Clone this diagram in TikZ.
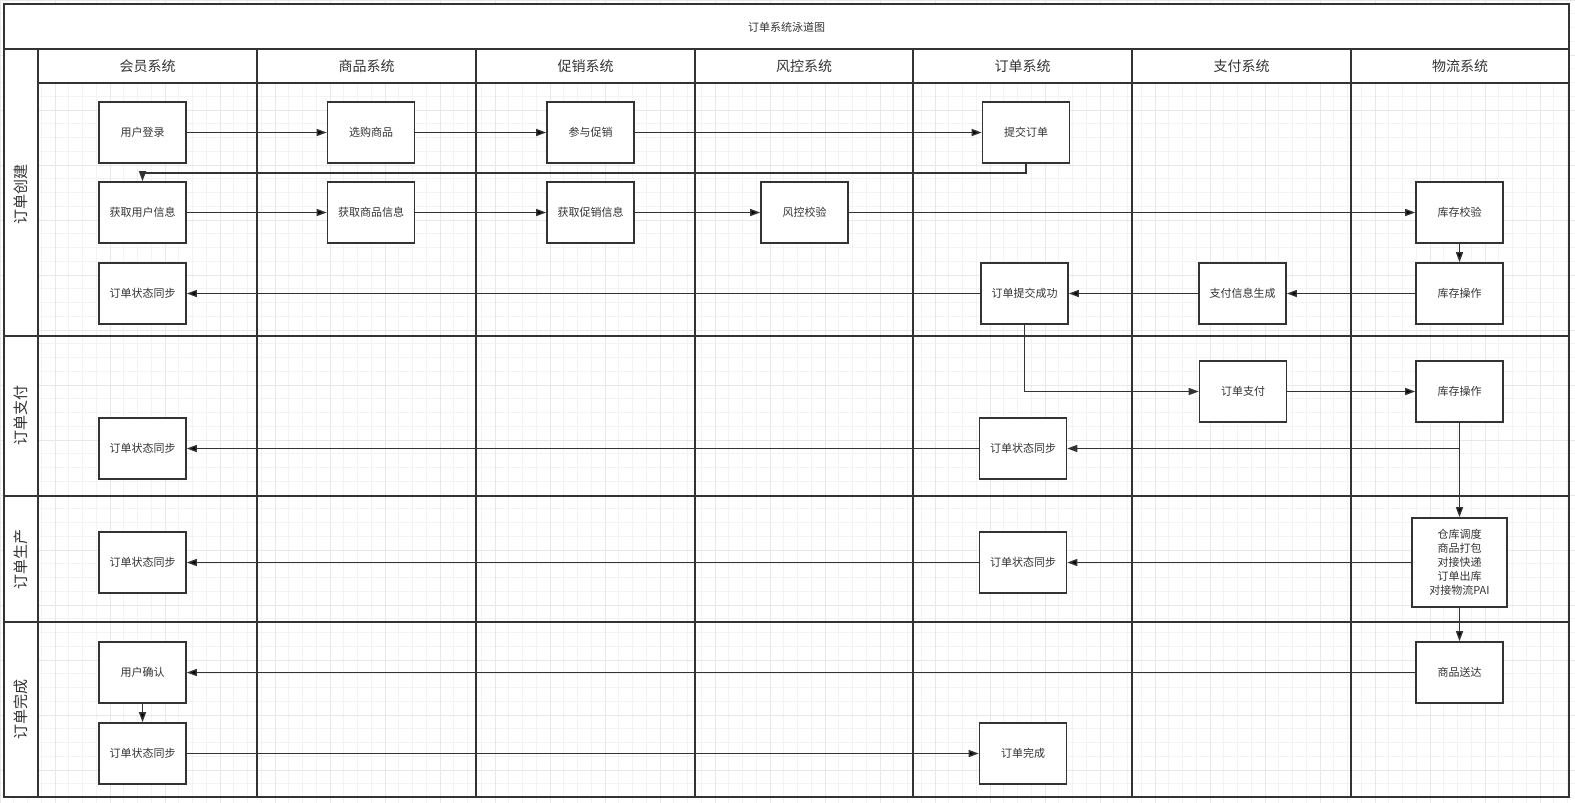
\documentclass[tikz,border=0pt]{standalone}
\usepackage{fontspec}
\setmainfont{Noto Sans CJK SC}
\usetikzlibrary{arrows.meta}
\definecolor{linegray}{HTML}{333333}
\definecolor{gridminor}{HTML}{F3F3F3}
\definecolor{gridmajor}{HTML}{E8E8E8}

\begin{document}
\begin{tikzpicture}[x=1pt, y=-1pt,
    task node/.style={rectangle, draw=linegray, line width=1.6pt, fill=white, minimum width=87pt, minimum height=61pt, inner sep=0pt, align=center, font=\fontsize{11pt}{14pt}\selectfont},
    lane line/.style={draw=linegray, line width=1.9pt},
    flow/.style={-{Triangle[length=10pt,width=7pt]}, draw=linegray, line width=1.4pt}]
  \tikzstyle{every node}=[text=linegray]

  \useasboundingbox (0,0) rectangle (1575,803);
  % background grid
  \draw[gridminor, step=13.75pt, line width=0.8pt] (0,0) grid (1575,803);
  \draw[gridmajor, step=55pt, line width=0.8pt] (0,0) grid (1575,803);
  \fill[white] (4,4) rectangle (1569,49);
  \fill[white] (38,49) rectangle (1569,83);
  \fill[white] (4,49) rectangle (38,797);

  % pool and lanes
  \draw[lane line] (4,4) rectangle (1569,797);
  \draw[lane line] (4,49) -- (1569,49);
  \draw[lane line] (38,83) -- (1569,83);
  \draw[lane line] (38,49) -- (38,797);
  \draw[lane line] (257,49) -- (257,797);
  \draw[lane line] (476,49) -- (476,797);
  \draw[lane line] (695,49) -- (695,797);
  \draw[lane line] (913,49) -- (913,797);
  \draw[lane line] (1132,49) -- (1132,797);
  \draw[lane line] (1351,49) -- (1351,797);
  \draw[lane line] (4,336) -- (1569,336);
  \draw[lane line] (4,496) -- (1569,496);
  \draw[lane line] (4,622) -- (1569,622);

  \node[font=\fontsize{11pt}{13pt}\selectfont] (title) at (786.5,27) {订单系统泳道图};

  \node[font=\fontsize{14pt}{16pt}\selectfont] (h1) at (147.5,66) {会员系统};
  \node[font=\fontsize{14pt}{16pt}\selectfont] (h2) at (366.5,66) {商品系统};
  \node[font=\fontsize{14pt}{16pt}\selectfont] (h3) at (585.5,66) {促销系统};
  \node[font=\fontsize{14pt}{16pt}\selectfont] (h4) at (804,66) {风控系统};
  \node[font=\fontsize{14pt}{16pt}\selectfont] (h5) at (1022.5,66) {订单系统};
  \node[font=\fontsize{14pt}{16pt}\selectfont] (h6) at (1241.5,66) {支付系统};
  \node[font=\fontsize{14pt}{16pt}\selectfont] (h7) at (1460,66) {物流系统};

  \node[font=\fontsize{15pt}{17pt}\selectfont, rotate=90] (l1) at (21,194) {订单创建};
  \node[font=\fontsize{15pt}{17pt}\selectfont, rotate=90] (l2) at (21,415) {订单支付};
  \node[font=\fontsize{15pt}{17pt}\selectfont, rotate=90] (l3) at (21,559) {订单生产};
  \node[font=\fontsize{15pt}{17pt}\selectfont, rotate=90] (l4) at (21,709) {订单完成};

  % order creation
  \node[task node] (1) at (142.5,132.5) {用户登录};
  \node[task node] (2) at (371,132.5) {选购商品};
  \node[task node] (3) at (590.5,132.5) {参与促销};
  \node[task node] (4) at (1026,132.5) {提交订单};
  \node[task node] (5) at (142.5,212.5) {获取用户信息};
  \node[task node] (6) at (371,212.5) {获取商品信息};
  \node[task node] (7) at (590.5,212.5) {获取促销信息};
  \node[task node] (8) at (804.5,212.5) {风控校验};
  \node[task node] (9) at (1459.5,212.5) {库存校验};
  \node[task node] (10) at (142.5,293.5) {订单状态同步};
  \node[task node] (11) at (1024.5,293.5) {订单提交成功};
  \node[task node] (12) at (1242.5,293.5) {支付信息生成};
  \node[task node] (13) at (1459.5,293.5) {库存操作};
  % order payment
  \node[task node] (14) at (1243,391.5) {订单支付};
  \node[task node] (15) at (1459.5,391.5) {库存操作};
  \node[task node] (16) at (142.5,448.5) {订单状态同步};
  \node[task node] (17) at (1023,448.5) {订单状态同步};
  % order production
  \node[task node] (18) at (142.5,562.5) {订单状态同步};
  \node[task node] (19) at (1023,562.5) {订单状态同步};
  \node[task node, minimum width=95pt, minimum height=89pt] (20) at (1459.5,562.5) {仓库调度\\商品打包\\对接快递\\订单出库\\对接物流PAI};
  % order completion
  \node[task node] (21) at (142.5,672.5) {用户确认};
  \node[task node] (22) at (142.5,753.5) {订单状态同步};
  \node[task node] (23) at (1023,753.5) {订单完成};
  \node[task node] (24) at (1459.5,672.5) {商品送达};

  \path[flow]
    (1) edge (2)
    (2) edge (3)
    (3) edge (4)
    (5) edge (6)
    (6) edge (7)
    (7) edge (8)
    (8) edge (9)
    (9) edge (13)
    (13) edge (12)
    (12) edge (11)
    (11) edge (10)
    (14) edge (15)
    (17) edge (16)
    (15) edge (20)
    (20) edge (19)
    (19) edge (18)
    (20) edge (24)
    (24) edge (21)
    (21) edge (22)
    (22) edge (23);
  \draw[flow] (4.south) -- ++(0,9) -| (5.north);
  \draw[flow] (11.south) |- (14.west);
  \draw[flow] (15.south) |- (17.east);
\end{tikzpicture}
\end{document}
